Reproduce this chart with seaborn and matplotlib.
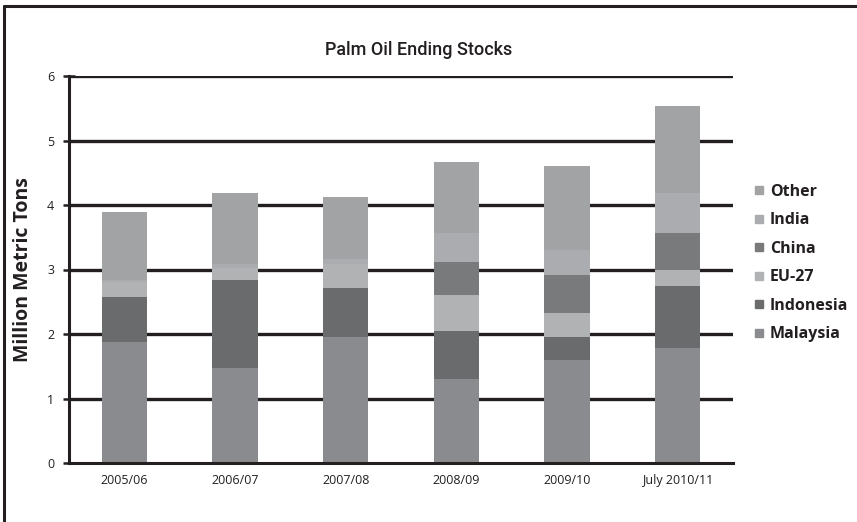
import matplotlib
matplotlib.use("Agg")
import matplotlib.pyplot as plt
from matplotlib.lines import Line2D
import seaborn as sns
import pandas as pd
import numpy as np

# Palm oil ending stocks, million metric tons
categories = ["2005/06", "2006/07", "2007/08", "2008/09", "2009/10", "July 2010/11"]
malaysia = [1.88, 1.48, 1.95, 1.31, 1.60, 1.78]
indonesia = [0.70, 1.35, 0.77, 0.74, 0.36, 0.96]
eu27 = [0.22, 0.20, 0.37, 0.55, 0.36, 0.26]
china = [0.00, 0.00, 0.00, 0.51, 0.60, 0.57]
india = [0.04, 0.06, 0.07, 0.46, 0.39, 0.61]
other = [1.05, 1.09, 0.97, 1.10, 1.30, 1.35]

series = ["Malaysia", "Indonesia", "EU-27", "China", "India", "Other"]
values = [malaysia, indonesia, eu27, china, india, other]
colors = {
    "Malaysia": "#8a8b8e",
    "Indonesia": "#6a6b6d",
    "EU-27": "#b1b2b4",
    "China": "#797a7c",
    "India": "#abacaf",
    "Other": "#a2a3a5",
}
ink = "#231f20"

sns.set_theme(style="white")
plt.rcParams["font.family"] = ["Open Sans", "DejaVu Sans"]

fig = plt.figure(figsize=(8.57, 5.22), dpi=100)
ax = fig.add_axes([69 / 857, 1 - 463 / 522, (733 - 69) / 857, (463 - 76) / 522])

# Cumulative tops, drawn from the tallest layer down so each stack looks stacked
cum = np.cumsum(np.array(values), axis=0)
for name, tops in reversed(list(zip(series, cum))):
    df = pd.DataFrame({"period": categories, "value": tops})
    sns.barplot(data=df, x="period", y="value", color=colors[name],
                saturation=1, width=0.41, linewidth=0, edgecolor="none",
                ax=ax, zorder=3)

ax.set_xlim(-0.5, 5.5)
ax.set_ylim(0, 6)
ax.set_yticks(range(0, 7))
for yv in range(1, 7):
    ax.axhline(yv, color=ink, lw=2.4, zorder=1)

for s in ["top", "right"]:
    ax.spines[s].set_visible(False)
for s in ["left", "bottom"]:
    ax.spines[s].set_color(ink)
    ax.spines[s].set_linewidth(2.2)
    ax.spines[s].set_zorder(4)

ax.tick_params(axis="y", direction="inout", length=9, width=1.8, color=ink,
               labelsize=9, pad=6, left=True)
ax.tick_params(axis="x", length=0, labelsize=9, pad=8)
ax.set_xlabel("")
ax.set_ylabel("Million Metric Tons", fontsize=14, fontweight="bold", color=ink)
ax.yaxis.set_label_coords((33 - 69) / 664, 0.5)
for lbl in ax.get_xticklabels() + ax.get_yticklabels():
    lbl.set_color(ink)

fig.text(0.488, 1 - 50 / 522, "Palm Oil Ending Stocks",
         family=["Roboto", "Liberation Sans", "DejaVu Sans"], fontweight="medium",
         fontsize=13, ha="center", va="center", color=ink)

handles = [Line2D([], [], marker="s", linestyle="none", markersize=6,
                  markerfacecolor=colors[n], markeredgecolor=colors[n])
           for n in reversed(series)]
leg = fig.legend(handles, list(reversed(series)), loc="upper left",
                 bbox_to_anchor=(749 / 857, 1 - 184 / 522), frameon=False,
                 handletextpad=0.1, labelspacing=0.78, handlelength=1.2,
                 borderaxespad=0, borderpad=0,
                 prop={"family": "Open Sans", "weight": "bold", "size": 11.5})
for t in leg.get_texts():
    t.set_color(ink)

# Frame lines along the top and left edges of the figure
fig.add_artist(Line2D([4 / 857, 4 / 857], [0, 1 - 6 / 522], transform=fig.transFigure,
                      color=ink, lw=2.2))
fig.add_artist(Line2D([4 / 857, 1], [1 - 6 / 522, 1 - 6 / 522], transform=fig.transFigure,
                      color=ink, lw=2.2))

fig.savefig("out.png", dpi=100)
